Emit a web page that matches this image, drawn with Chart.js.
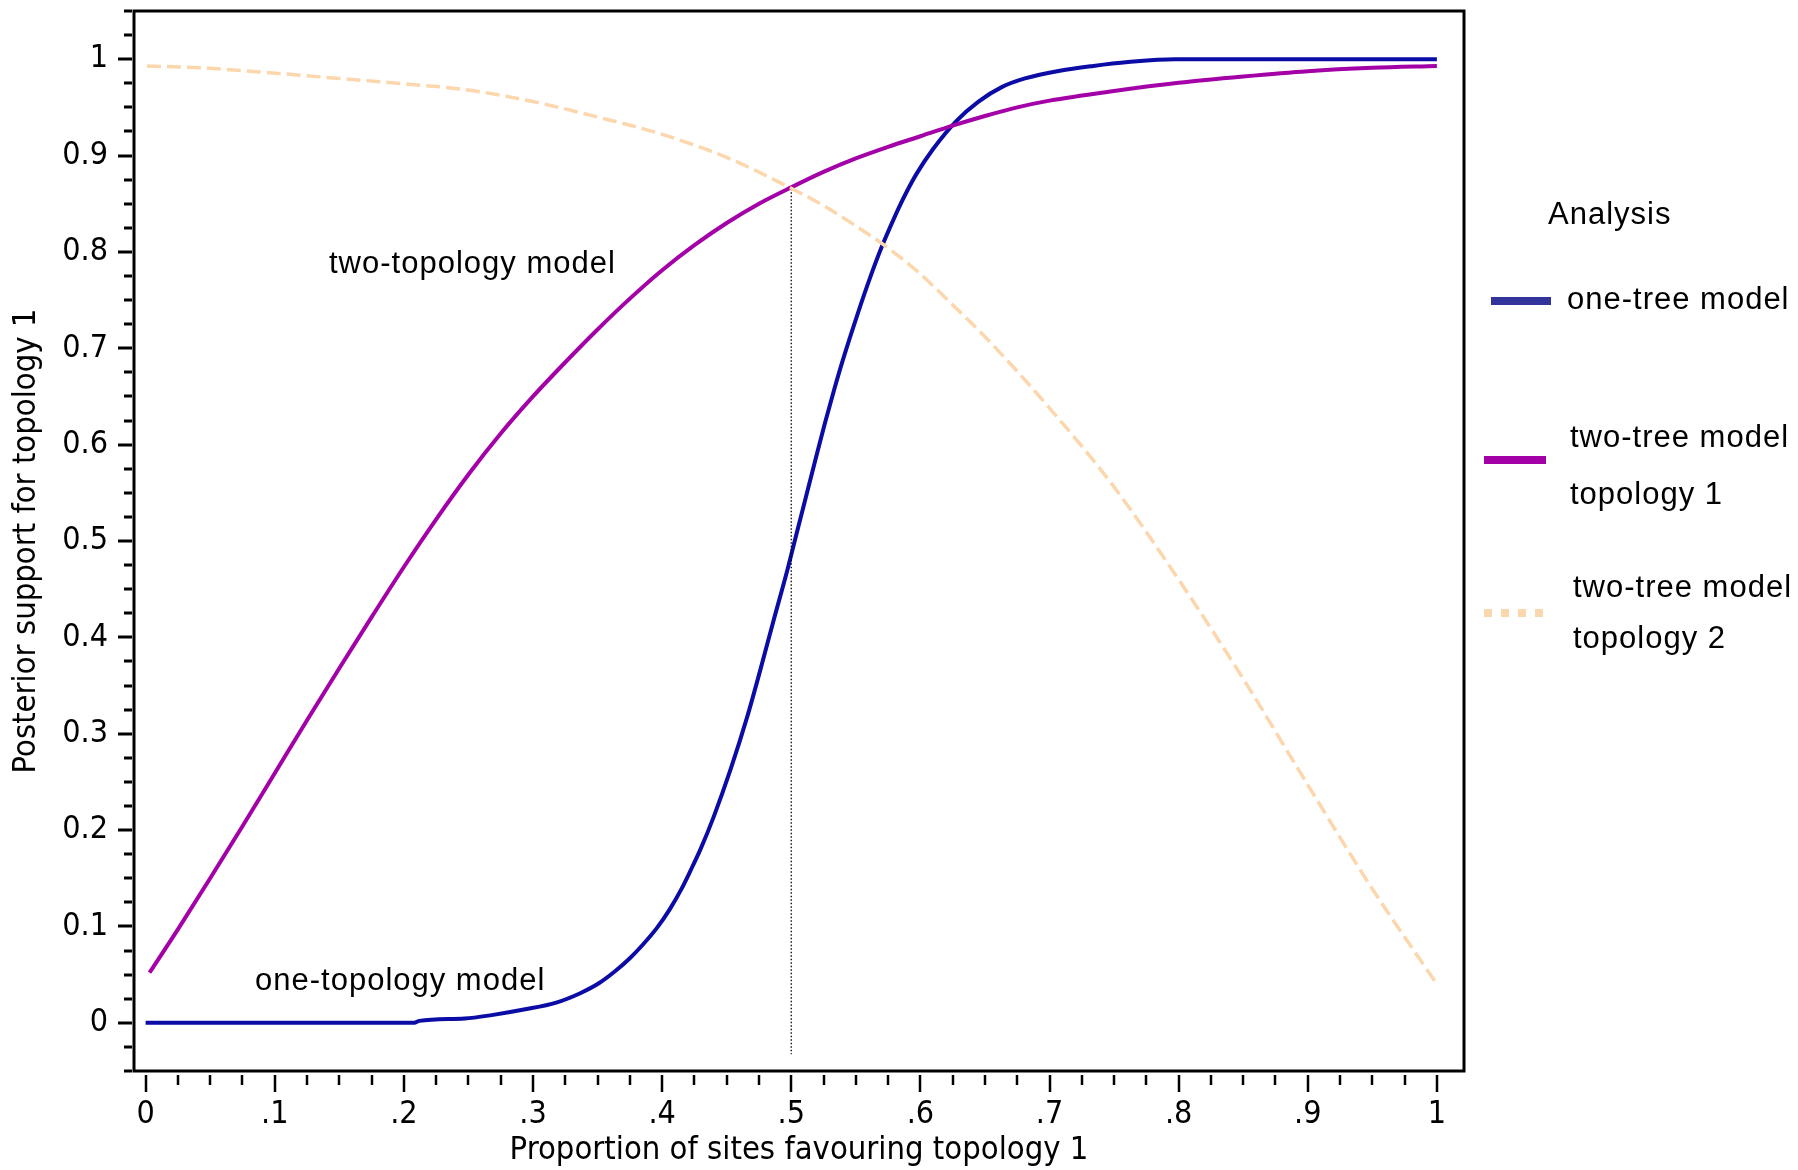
<!DOCTYPE html>
<html>
<head>
<meta charset="utf-8">
<script src="https://cdn.jsdelivr.net/npm/chart.js@4/dist/chart.umd.min.js"></script>
<style>
  html, body { margin: 0; padding: 0; background: #ffffff; }
  #wrap { width: 1798px; height: 1170px; position: relative; }
</style>
</head>
<body>
<div id="wrap"><canvas id="c" width="1798" height="1170"></canvas></div>
<script>
// ---------- data ----------
const oneTreeX = [0, 0.05, 0.1, 0.15, 0.208, 0.212, 0.247, 0.268, 0.294, 0.318, 0.337, 0.351, 0.364, 0.375, 0.385, 0.396, 0.406, 0.415, 0.422, 0.430, 0.440, 0.453, 0.466, 0.476, 0.486, 0.497, 0.504, 0.512, 0.520, 0.526, 0.533, 0.540, 0.551, 0.561, 0.570, 0.577, 0.583, 0.590, 0.597, 0.610, 0.628, 0.645, 0.663, 0.681, 0.708, 0.734, 0.761, 0.797, 0.85, 0.9, 0.95, 1.0];
const oneTreeY = [0, 0, 0, 0, 0, 0.002, 0.0045, 0.008, 0.014, 0.021, 0.031, 0.041, 0.054, 0.067, 0.081, 0.0985, 0.118, 0.139, 0.158, 0.181, 0.214, 0.263, 0.318, 0.366, 0.416, 0.470, 0.507, 0.549, 0.591, 0.622, 0.656, 0.688, 0.734, 0.773, 0.805, 0.827, 0.845, 0.864, 0.881, 0.907, 0.936, 0.956, 0.971, 0.980, 0.988, 0.993, 0.997, 1.0, 1.0, 1.0, 1.0, 1.0];

const topo1X = [0.003, 0.025, 0.05, 0.075, 0.1, 0.125, 0.15, 0.175, 0.2, 0.225, 0.25, 0.275, 0.3, 0.325, 0.35, 0.375, 0.4, 0.425, 0.45, 0.475, 0.5, 0.525, 0.55, 0.575, 0.6, 0.625, 0.65, 0.675, 0.7, 0.75, 0.8, 0.85, 0.9, 0.95, 1.0];
const topo1Y = [0.052, 0.097, 0.150, 0.204, 0.259, 0.314, 0.368, 0.421, 0.473, 0.5225, 0.569, 0.6115, 0.650, 0.6855, 0.7195, 0.7515, 0.781, 0.807, 0.830, 0.850, 0.867, 0.883, 0.897, 0.909, 0.920, 0.931, 0.941, 0.950, 0.957, 0.967, 0.9755, 0.982, 0.9875, 0.991, 0.993];

const topo2X = [0.001, 0.05, 0.1, 0.15, 0.2, 0.25, 0.3, 0.35, 0.4, 0.45, 0.5, 0.525, 0.55, 0.575, 0.6, 0.625, 0.65, 0.7, 0.75, 0.8, 0.85, 0.9, 0.95, 1.0];
const topo2Y = [0.993, 0.9905, 0.9855, 0.980, 0.9745, 0.968, 0.956, 0.940, 0.922, 0.898, 0.866, 0.848, 0.827, 0.804, 0.777, 0.745, 0.712, 0.638, 0.556, 0.460, 0.357, 0.247, 0.139, 0.040];

const refLineX = [0.5, 0.5];
const refLineY = [0.8655, -0.0325];

const xTickVals = [0, 0.1, 0.2, 0.3, 0.4, 0.5, 0.6, 0.7, 0.8, 0.9, 1];
const xTickLabels = ['0', '.1', '.2', '.3', '.4', '.5', '.6', '.7', '.8', '.9', '1'];
const yTickVals = [0, 0.1, 0.2, 0.3, 0.4, 0.5, 0.6, 0.7, 0.8, 0.9, 1];
const yTickLabels = ['0', '0.1', '0.2', '0.3', '0.4', '0.5', '0.6', '0.7', '0.8', '0.9', '1'];

const xTitle = 'Proportion of sites favouring topology 1';
const yTitle = 'Posterior support for topology 1';
const legendTitle = 'Analysis';
const legendLabels = [['one-tree model'], ['two-tree model', 'topology 1'], ['two-tree model', 'topology 2']];
const annotations = ['two-topology model', 'one-topology model'];

// ---------- helpers ----------
const pts = (xs, ys) => xs.map((x, i) => ({ x: x, y: ys[i] }));
const AX_FONT = "'DejaVu Sans Condensed', 'DejaVu Sans'";
const TXT_FONT = "'Liberation Sans', Arial, sans-serif";

const COL_BLUE = '#0b0ba6';
const COL_MAG = '#a300a8';
const COL_PEACH = 'rgb(252,214,172)';

const framePlugin = {
  id: 'frame',
  afterDraw(chart) {
    const ctx = chart.ctx;
    const { left, right, top, bottom } = chart.chartArea;
    const xs = chart.scales.x, ys = chart.scales.y;
    ctx.save();
    ctx.strokeStyle = '#000';
    ctx.lineWidth = 3;
    ctx.strokeRect(left, top, right - left, bottom - top);
    const minor = 0.025;
    for (let k = 0; k <= 44; k++) {
      const v = -0.05 + k * minor;
      const py = Math.round(ys.getPixelForValue(v));
      const isMajor = Math.abs(v * 10 - Math.round(v * 10)) < 1e-6;
      ctx.lineWidth = 3;
      ctx.beginPath();
      ctx.moveTo(left - (isMajor ? 16 : 10), py);
      ctx.lineTo(left - 2, py);
      ctx.stroke();
    }
    for (let k = 0; k <= 40; k++) {
      const v = k * minor;
      const px = Math.round(xs.getPixelForValue(v));
      const isMajor = k % 4 === 0;
      ctx.lineWidth = 2.5;
      ctx.beginPath();
      ctx.moveTo(px, bottom + 4);
      ctx.lineTo(px, bottom + (isMajor ? 21 : 14));
      ctx.stroke();
    }

    ctx.fillStyle = '#000';
    ctx.font = '31px ' + TXT_FONT;
    if ('letterSpacing' in ctx) ctx.letterSpacing = '1px';
    ctx.textBaseline = 'alphabetic';
    ctx.textAlign = 'left';
    ctx.fillText(annotations[0], 329, 273);
    ctx.fillText(annotations[1], 255, 990);

    ctx.fillText(legendTitle, 1548, 224);
    const swatches = [
      { x0: 1491, x1: 1551, y: 301, color: '#33339c', dash: [] },
      { x0: 1484, x1: 1546, y: 460, color: '#a400a8', dash: [] },
      { x0: 1484, x1: 1544, y: 613, color: COL_PEACH, dash: [8, 9] }
    ];
    const textPos = [
      [[1567, 309]],
      [[1570, 447], [1570, 504]],
      [[1573, 597], [1573, 648]]
    ];
    swatches.forEach((s, i) => {
      ctx.save();
      if ('letterSpacing' in ctx) ctx.letterSpacing = '0px';
      ctx.strokeStyle = s.color;
      ctx.lineWidth = 8;
      ctx.lineCap = 'butt';
      ctx.setLineDash(s.dash);
      ctx.beginPath();
      ctx.moveTo(s.x0, s.y);
      ctx.lineTo(s.x1, s.y);
      ctx.stroke();
      ctx.restore();
      legendLabels[i].forEach((t, j) => {
        ctx.fillText(t, textPos[i][j][0], textPos[i][j][1]);
      });
    });
    ctx.restore();
  }
};

new Chart(document.getElementById('c'), {
  type: 'scatter',
  data: {
    datasets: [
      {
        label: 'two-tree model topology 2',
        data: pts(topo2X, topo2Y),
        showLine: true,
        borderColor: COL_PEACH,
        borderWidth: 3.5,
        borderDash: [14, 6],
        pointRadius: 0,
        cubicInterpolationMode: 'monotone'
      },
      {
        label: 'reference',
        data: pts(refLineX, refLineY),
        showLine: true,
        borderColor: '#000',
        borderWidth: 1.3,
        borderDash: [1.5, 2],
        pointRadius: 0
      },
      {
        label: 'two-tree model topology 1',
        data: pts(topo1X, topo1Y),
        showLine: true,
        borderColor: COL_MAG,
        borderWidth: 4,
        pointRadius: 0,
        cubicInterpolationMode: 'monotone'
      },
      {
        label: 'one-tree model',
        data: pts(oneTreeX, oneTreeY),
        showLine: true,
        borderColor: COL_BLUE,
        borderWidth: 4,
        pointRadius: 0,
        cubicInterpolationMode: 'monotone'
      }
    ]
  },
  options: {
    responsive: false,
    animation: false,
    devicePixelRatio: 1,
    layout: { padding: { left: 0, top: 11, right: 334, bottom: 0 } },
    plugins: { legend: { display: false }, tooltip: { enabled: false } },
    scales: {
      x: {
        type: 'linear',
        min: -0.009,
        max: 1.021,
        grid: { display: false, drawTicks: false },
        border: { display: false },
        afterBuildTicks: (s) => { s.ticks = xTickVals.map(v => ({ value: v })); },
        afterFit: (s) => { s.height = 99; s.paddingLeft = 0; s.paddingRight = 0; },
        ticks: {
          autoSkip: false,
          maxRotation: 0,
          padding: 24,
          color: '#000',
          font: { family: AX_FONT, size: 32 },
          callback: (v) => { const i = xTickVals.findIndex(t => Math.abs(t - v) < 1e-9); return i >= 0 ? xTickLabels[i] : ''; }
        },
        title: {
          display: true,
          text: xTitle,
          color: '#000',
          font: { family: AX_FONT, size: 32.5 },
          padding: { top: 0, bottom: 0 }
        }
      },
      y: {
        type: 'linear',
        min: -0.05,
        max: 1.05,
        grid: { display: false, drawTicks: false },
        border: { display: false },
        afterBuildTicks: (s) => { s.ticks = yTickVals.map(v => ({ value: v })); },
        afterFit: (s) => { s.width = 134; s.paddingTop = 0; s.paddingBottom = 0; },
        ticks: {
          autoSkip: false,
          padding: 26,
          color: '#000',
          font: { family: AX_FONT, size: 32 },
          callback: (v) => { const i = yTickVals.findIndex(t => Math.abs(t - v) < 1e-9); return i >= 0 ? yTickLabels[i] : ''; }
        },
        title: {
          display: true,
          text: yTitle,
          color: '#000',
          font: { family: AX_FONT, size: 32.5 },
          padding: { top: 7, bottom: 0 }
        }
      }
    }
  },
  plugins: [framePlugin]
});
</script>
</body>
</html>
